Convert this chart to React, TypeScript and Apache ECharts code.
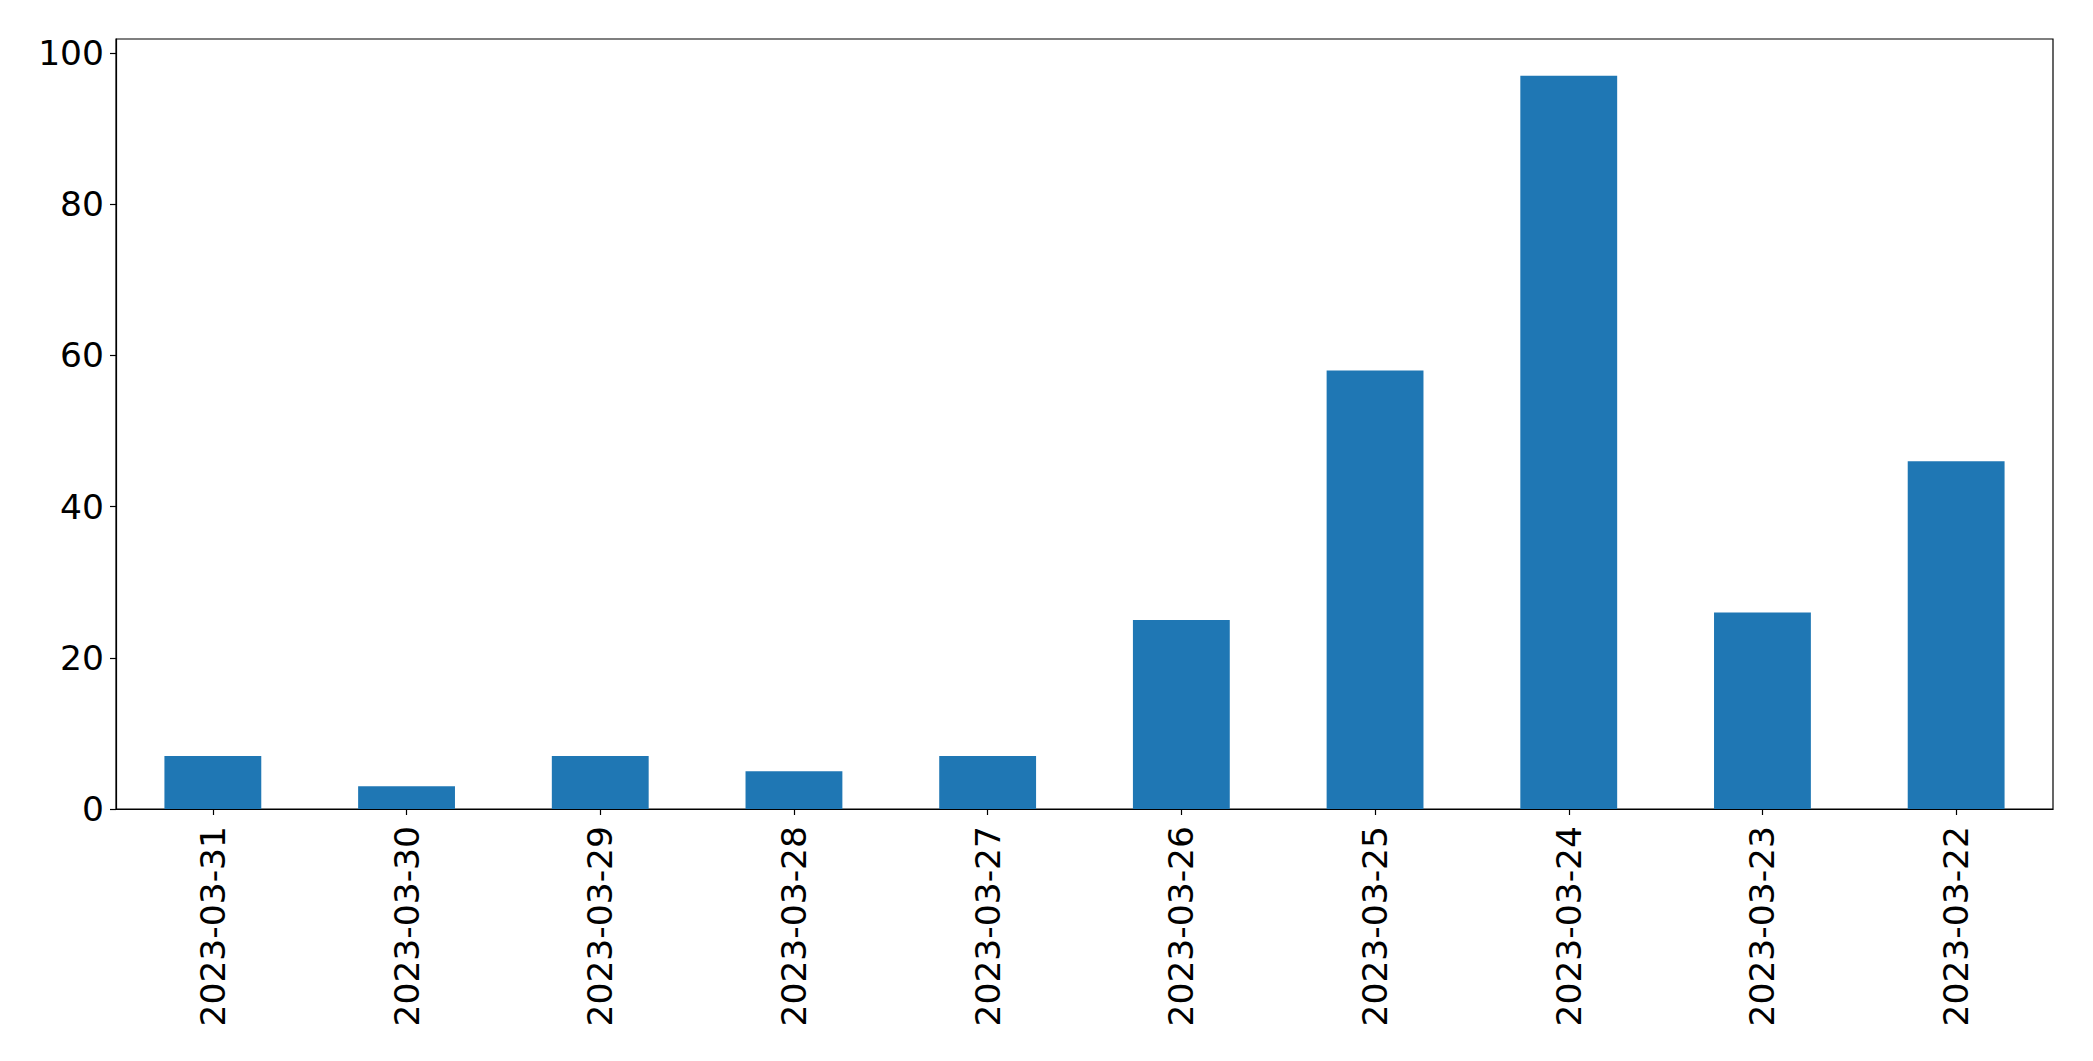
import React, { useEffect, useRef } from "react";
import * as echarts from "echarts";

const categories = [
  "2023-03-31", "2023-03-30", "2023-03-29", "2023-03-28", "2023-03-27",
  "2023-03-26", "2023-03-25", "2023-03-24", "2023-03-23", "2023-03-22",
];
const values = [7, 3, 7, 5, 7, 25, 58, 97, 26, 46];
const yTicks = [0, 20, 40, 60, 80, 100];

export default function App() {
  const ref = useRef<HTMLDivElement>(null);
  useEffect(() => {
    const chart = echarts.init(ref.current!, null, { renderer: "svg" });
    const font = "DejaVu Sans";
    chart.setOption({
      animation: false,
      backgroundColor: "#ffffff",
      grid: {
        left: 116, top: 39, width: 1937, height: 770,
        show: true, borderColor: "#000", borderWidth: 1.2, backgroundColor: "transparent",
      },
      xAxis: {
        type: "category",
        data: categories,
        boundaryGap: true,
        axisLine: { show: true, lineStyle: { color: "#000", width: 1.2 } },
        axisTick: { show: true, alignWithLabel: true, length: 6, lineStyle: { color: "#000", width: 1.2 } },
        axisLabel: { rotate: 90, margin: 17, fontSize: 34.5, color: "#000", fontFamily: font, interval: 0 },
        splitLine: { show: false },
      },
      yAxis: {
        type: "value",
        min: 0,
        max: 101.85,
        interval: 20,
        axisLine: { show: true, lineStyle: { color: "#000", width: 1.2 } },
        axisTick: { show: true, length: 6, lineStyle: { color: "#000", width: 1.2 }, customValues: yTicks },
        axisLabel: { margin: 12, fontSize: 34.5, color: "#000", fontFamily: font, customValues: yTicks },
        splitLine: { show: false },
      },
      series: [
        {
          type: "bar",
          data: values,
          barWidth: "50%",
          itemStyle: { color: "#1f77b4" },
        },
      ],
    });
    return () => chart.dispose();
  }, []);
  return (
    <div
      ref={ref}
      style={{ position: "fixed", left: 0, top: 0, width: 2093, height: 1061 }}
    />
  );
}
